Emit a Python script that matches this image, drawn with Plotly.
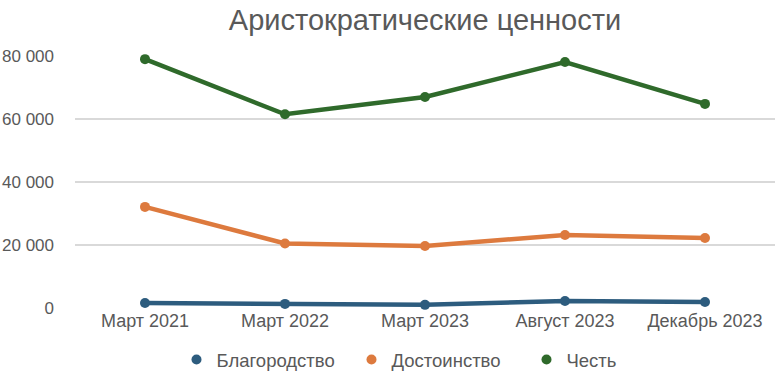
import plotly.graph_objects as go

categories = ["Март 2021", "Март 2022", "Март 2023", "Август 2023", "Декабрь 2023"]
blagorodstvo = [1600, 1300, 1000, 2200, 1900]
dostoinstvo = [32100, 20500, 19700, 23200, 22200]
chest = [79000, 61500, 67000, 78100, 64800]

series = [
    ("Благородство", blagorodstvo, "#2D5C7E"),
    ("Достоинство", dostoinstvo, "#DD7A3E"),
    ("Честь", chest, "#2F6A2B"),
]

fig = go.Figure()
for name, vals, color in series:
    fig.add_trace(go.Scatter(
        x=categories, y=vals, name=name, mode="lines+markers",
        line=dict(color=color, width=4.5),
        marker=dict(color=color, size=10),
        cliponaxis=False, showlegend=False,
    ))
for name, vals, color in series:
    fig.add_trace(go.Scatter(
        x=[None], y=[None], name=name, mode="markers",
        marker=dict(color=color, size=10),
    ))

W, H = 776, 374
fig.update_layout(
    width=W, height=H,
    margin=dict(l=75, r=1, t=56, b=66, autoexpand=False),
    paper_bgcolor="white", plot_bgcolor="white",
    font=dict(family="Liberation Sans, Arial, sans-serif", size=17, color="#595959"),
    separators=", ",
    title=dict(text="Аристократические ценности", x=425/W, xanchor="center",
               y=1 - 20/H, yanchor="middle",
               font=dict(size=29, color="#595959")),
    xaxis=dict(type="category", range=[-0.5, 4.5], automargin=False,
               showgrid=False, zeroline=False, showline=False, ticks="",
               tickfont=dict(size=18, color="#595959")),
    yaxis=dict(range=[0, 80000], dtick=20000, tickformat=",d", automargin=False,
               showgrid=True, gridcolor="#D9D9D9", gridwidth=2,
               zeroline=False, showline=False, ticks="",
               ticklabelstandoff=20,
               tickfont=dict(size=17, color="#595959")),
    legend=dict(orientation="h", x=0.52, xanchor="center", y=-0.206, yanchor="middle",
                font=dict(size=18.5, color="#595959"), itemwidth=30,
                entrywidth=130, entrywidthmode="pixels"),
)

fig.write_html("out.html", config={"displayModeBar": False},
               post_script="document.body.style.margin='0';document.body.style.overflow='hidden';")
